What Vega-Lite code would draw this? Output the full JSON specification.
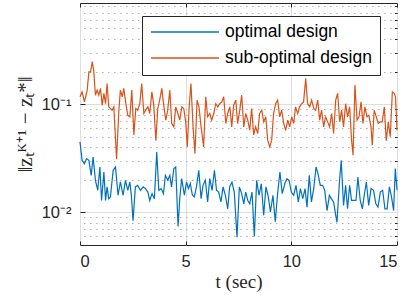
{
 "$schema": "https://vega.github.io/schema/vega-lite/v6.json",
 "width": 317, "height": 242,
 "autosize": {"type": "none"},
 "padding": {"left": 80, "top": 3, "right": 10, "bottom": 61},
 "config": {"view": {"stroke": "#262626", "strokeWidth": 1}, "font": "Liberation Sans"},
 "datasets": {
  "opt": [{"t":0,"v":0.0448},{"t":0.1,"v":0.0303},{"t":0.21,"v":0.0282},{"t":0.31,"v":0.0314},{"t":0.42,"v":0.0303},{"t":0.53,"v":0.022},{"t":0.62,"v":0.0325},{"t":0.73,"v":0.0198},{"t":0.84,"v":0.016},{"t":0.94,"v":0.0263},{"t":1.02,"v":0.0129},{"t":1.13,"v":0.0236},{"t":1.21,"v":0.0129},{"t":1.28,"v":0.0172},{"t":1.36,"v":0.0134},{"t":1.44,"v":0.0139},{"t":1.57,"v":0.0245},{"t":1.68,"v":0.0263},{"t":1.8,"v":0.0144},{"t":1.91,"v":0.0191},{"t":2.04,"v":0.0144},{"t":2.15,"v":0.0198},{"t":2.26,"v":0.016},{"t":2.36,"v":0.0191},{"t":2.43,"v":0.0144},{"t":2.51,"v":0.0084},{"t":2.62,"v":0.0172},{"t":2.73,"v":0.0178},{"t":2.86,"v":0.016},{"t":2.99,"v":0.0172},{"t":3.1,"v":0.0166},{"t":3.21,"v":0.0154},{"t":3.3,"v":0.0129},{"t":3.41,"v":0.0149},{"t":3.52,"v":0.0134},{"t":3.63,"v":0.0362},{"t":3.73,"v":0.016},{"t":3.84,"v":0.0166},{"t":3.95,"v":0.0149},{"t":4.04,"v":0.022},{"t":4.15,"v":0.0198},{"t":4.25,"v":0.022},{"t":4.33,"v":0.0172},{"t":4.44,"v":0.0254},{"t":4.53,"v":0.0263},{"t":4.64,"v":0.0074},{"t":4.72,"v":0.0134},{"t":4.81,"v":0.0205},{"t":4.94,"v":0.0144},{"t":5.04,"v":0.0191},{"t":5.13,"v":0.0166},{"t":5.22,"v":0.0184},{"t":5.32,"v":0.0144},{"t":5.41,"v":0.0139},{"t":5.51,"v":0.0172},{"t":5.62,"v":0.0245},{"t":5.73,"v":0.0134},{"t":5.82,"v":0.0178},{"t":5.93,"v":0.0198},{"t":6.04,"v":0.0125},{"t":6.14,"v":0.0205},{"t":6.25,"v":0.016},{"t":6.36,"v":0.0245},{"t":6.46,"v":0.016},{"t":6.56,"v":0.0154},{"t":6.67,"v":0.0125},{"t":6.77,"v":0.0172},{"t":6.88,"v":0.0144},{"t":6.99,"v":0.0108},{"t":7.08,"v":0.0172},{"t":7.19,"v":0.0191},{"t":7.3,"v":0.0154},{"t":7.43,"v":0.0059},{"t":7.54,"v":0.0172},{"t":7.65,"v":0.0149},{"t":7.75,"v":0.012},{"t":7.84,"v":0.0154},{"t":7.94,"v":0.0129},{"t":8.03,"v":0.012},{"t":8.14,"v":0.0154},{"t":8.25,"v":0.006},{"t":8.36,"v":0.0198},{"t":8.47,"v":0.0144},{"t":8.58,"v":0.0184},{"t":8.69,"v":0.0094},{"t":8.8,"v":0.0172},{"t":8.91,"v":0.0139},{"t":9.01,"v":0.0101},{"t":9.13,"v":0.0144},{"t":9.24,"v":0.0082},{"t":9.35,"v":0.0149},{"t":9.46,"v":0.0236},{"t":9.57,"v":0.0149},{"t":9.69,"v":0.0184},{"t":9.79,"v":0.0205},{"t":9.89,"v":0.0198},{"t":10,"v":0.0154},{"t":10.11,"v":0.0144},{"t":10.22,"v":0.0178},{"t":10.33,"v":0.0125},{"t":10.43,"v":0.0166},{"t":10.54,"v":0.0134},{"t":10.65,"v":0.0166},{"t":10.74,"v":0.0112},{"t":10.85,"v":0.022},{"t":10.95,"v":0.0125},{"t":11.06,"v":0.0166},{"t":11.17,"v":0.0263},{"t":11.26,"v":0.0228},{"t":11.37,"v":0.0178},{"t":11.48,"v":0.0178},{"t":11.58,"v":0.016},{"t":11.69,"v":0.0104},{"t":11.8,"v":0.0144},{"t":11.89,"v":0.0134},{"t":12,"v":0.0125},{"t":12.1,"v":0.0094},{"t":12.16,"v":0.0081},{"t":12.27,"v":0.0184},{"t":12.36,"v":0.0303},{"t":12.47,"v":0.0116},{"t":12.57,"v":0.0178},{"t":12.66,"v":0.0108},{"t":12.76,"v":0.0178},{"t":12.85,"v":0.0129},{"t":12.95,"v":0.0129},{"t":13.06,"v":0.0129},{"t":13.15,"v":0.0212},{"t":13.26,"v":0.0129},{"t":13.36,"v":0.0108},{"t":13.45,"v":0.0144},{"t":13.55,"v":0.0191},{"t":13.66,"v":0.0116},{"t":13.77,"v":0.0166},{"t":13.89,"v":0.016},{"t":14,"v":0.012},{"t":14.1,"v":0.0112},{"t":14.21,"v":0.0154},{"t":14.32,"v":0.016},{"t":14.43,"v":0.0108},{"t":14.53,"v":0.0108},{"t":14.64,"v":0.0172},{"t":14.74,"v":0.0139},{"t":14.84,"v":0.0104},{"t":14.92,"v":0.0254},{"t":15,"v":0.016}],
  "sub": [{"t":0,"v":0.117},{"t":0.1,"v":0.13},{"t":0.21,"v":0.105},{"t":0.34,"v":0.135},{"t":0.42,"v":0.199},{"t":0.5,"v":0.199},{"t":0.58,"v":0.247},{"t":0.65,"v":0.203},{"t":0.73,"v":0.121},{"t":0.81,"v":0.135},{"t":0.89,"v":0.121},{"t":0.97,"v":0.14},{"t":1.05,"v":0.098},{"t":1.13,"v":0.126},{"t":1.21,"v":0.101},{"t":1.28,"v":0.155},{"t":1.36,"v":0.0945},{"t":1.44,"v":0.0912},{"t":1.52,"v":0.088},{"t":1.6,"v":0.0945},{"t":1.73,"v":0.031},{"t":1.84,"v":0.088},{"t":1.91,"v":0.135},{"t":2,"v":0.117},{"t":2.07,"v":0.14},{"t":2.17,"v":0.101},{"t":2.26,"v":0.079},{"t":2.36,"v":0.0764},{"t":2.45,"v":0.135},{"t":2.55,"v":0.052},{"t":2.64,"v":0.0912},{"t":2.73,"v":0.088},{"t":2.83,"v":0.101},{"t":2.92,"v":0.155},{"t":3.02,"v":0.082},{"t":3.11,"v":0.088},{"t":3.21,"v":0.0945},{"t":3.3,"v":0.082},{"t":3.4,"v":0.13},{"t":3.49,"v":0.098},{"t":3.59,"v":0.046},{"t":3.68,"v":0.0912},{"t":3.77,"v":0.109},{"t":3.87,"v":0.14},{"t":3.96,"v":0.098},{"t":4.06,"v":0.0711},{"t":4.15,"v":0.088},{"t":4.25,"v":0.135},{"t":4.34,"v":0.0662},{"t":4.44,"v":0.0617},{"t":4.53,"v":0.0945},{"t":4.63,"v":0.082},{"t":4.72,"v":0.0711},{"t":4.82,"v":0.0945},{"t":4.91,"v":0.0912},{"t":5,"v":0.0686},{"t":5.08,"v":0.0403},{"t":5.16,"v":0.0912},{"t":5.25,"v":0.155},{"t":5.35,"v":0.0617},{"t":5.44,"v":0.0349},{"t":5.54,"v":0.109},{"t":5.63,"v":0.0945},{"t":5.73,"v":0.0617},{"t":5.85,"v":0.0403},{"t":5.95,"v":0.117},{"t":6.04,"v":0.0764},{"t":6.14,"v":0.082},{"t":6.23,"v":0.0711},{"t":6.33,"v":0.082},{"t":6.42,"v":0.101},{"t":6.52,"v":0.0945},{"t":6.61,"v":0.101},{"t":6.71,"v":0.105},{"t":6.8,"v":0.117},{"t":6.9,"v":0.0662},{"t":6.99,"v":0.082},{"t":7.09,"v":0.0945},{"t":7.18,"v":0.0617},{"t":7.27,"v":0.098},{"t":7.37,"v":0.109},{"t":7.46,"v":0.0662},{"t":7.56,"v":0.088},{"t":7.65,"v":0.121},{"t":7.75,"v":0.0617},{"t":7.84,"v":0.082},{"t":7.94,"v":0.0711},{"t":8.03,"v":0.0574},{"t":8.12,"v":0.0912},{"t":8.22,"v":0.052},{"t":8.31,"v":0.0617},{"t":8.41,"v":0.0535},{"t":8.5,"v":0.082},{"t":8.6,"v":0.088},{"t":8.69,"v":0.0686},{"t":8.79,"v":0.0764},{"t":8.88,"v":0.0465},{"t":8.98,"v":0.0403},{"t":9.07,"v":0.0465},{"t":9.16,"v":0.082},{"t":9.26,"v":0.101},{"t":9.35,"v":0.109},{"t":9.45,"v":0.0764},{"t":9.54,"v":0.088},{"t":9.64,"v":0.0662},{"t":9.73,"v":0.0574},{"t":9.83,"v":0.0711},{"t":9.92,"v":0.0617},{"t":10.02,"v":0.0764},{"t":10.11,"v":0.0662},{"t":10.2,"v":0.0945},{"t":10.3,"v":0.082},{"t":10.39,"v":0.0945},{"t":10.49,"v":0.101},{"t":10.58,"v":0.105},{"t":10.68,"v":0.173},{"t":10.77,"v":0.101},{"t":10.87,"v":0.0945},{"t":10.96,"v":0.109},{"t":11.06,"v":0.0912},{"t":11.15,"v":0.088},{"t":11.25,"v":0.109},{"t":11.34,"v":0.0711},{"t":11.43,"v":0.088},{"t":11.53,"v":0.0617},{"t":11.62,"v":0.0764},{"t":11.72,"v":0.0686},{"t":11.81,"v":0.0617},{"t":11.91,"v":0.082},{"t":12,"v":0.0535},{"t":12.1,"v":0.109},{"t":12.19,"v":0.126},{"t":12.29,"v":0.0686},{"t":12.38,"v":0.088},{"t":12.47,"v":0.0617},{"t":12.57,"v":0.101},{"t":12.66,"v":0.0764},{"t":12.76,"v":0.0945},{"t":12.85,"v":0.0465},{"t":12.92,"v":0.0337},{"t":13.01,"v":0.15},{"t":13.11,"v":0.0711},{"t":13.2,"v":0.0764},{"t":13.3,"v":0.105},{"t":13.39,"v":0.0662},{"t":13.48,"v":0.0945},{"t":13.58,"v":0.0764},{"t":13.67,"v":0.079},{"t":13.77,"v":0.0617},{"t":13.83,"v":0.0417},{"t":13.92,"v":0.088},{"t":14.02,"v":0.0764},{"t":14.11,"v":0.0662},{"t":14.21,"v":0.0686},{"t":14.3,"v":0.0686},{"t":14.4,"v":0.0945},{"t":14.49,"v":0.046},{"t":14.59,"v":0.0686},{"t":14.68,"v":0.05},{"t":14.78,"v":0.13},{"t":14.87,"v":0.126},{"t":14.93,"v":0.117},{"t":15,"v":0.0574}]
 },
 "layer": [
  {
   "data": {"name": "opt"},
   "mark": {"type": "point", "opacity": 0},
   "encoding": {
    "x": {"field": "t", "type": "quantitative", "scale": {"domain": [0, 15], "nice": false, "zero": false},
     "axis": {"orient": "top", "values": [0, 5, 10, 15], "labels": false, "grid": false, "domain": false, "ticks": true, "tickSize": -4, "tickColor": "#262626", "title": null}},
    "y": {"field": "v", "type": "quantitative", "scale": {"type": "log", "domain": [0.005, 0.86], "nice": false},
     "axis": {"orient": "right", "values": [0.006,0.007,0.008,0.009,0.02,0.03,0.04,0.05,0.06,0.07,0.08,0.09,0.2,0.3,0.4,0.5,0.6,0.7,0.8], "labels": false, "domain": false, "grid": true, "gridDash": [1.5, 4.5], "gridColor": "#b4b4b4", "ticks": true, "tickSize": -2.5, "tickColor": "#262626", "title": null}}
   }
  },
  {
   "data": {"name": "opt"},
   "mark": {"type": "line", "strokeWidth": 1.2},
   "encoding": {
    "x": {"field": "t", "type": "quantitative",
     "axis": {"orient": "bottom", "values": [0, 5, 10, 15], "grid": true, "gridColor": "#dedede", "domain": false, "ticks": true, "tickSize": -4, "tickColor": "#262626", "labelFontSize": 16.5, "labelColor": "#262626", "labelPadding": 12, "labelFont": "Liberation Sans", "title": "t (sec)", "titleFont": "Liberation Serif", "titleFontSize": 19, "titleFontWeight": "normal", "titleColor": "#262626", "titlePadding": 3}},
    "y": {"field": "v", "type": "quantitative",
     "axis": {"orient": "left", "values": [0.01, 0.1], "labelExpr": "datum.value < 0.05 ? '10⁻²' : '10⁻¹'", "grid": true, "gridColor": "#dedede", "domain": false, "ticks": true, "tickSize": -5, "tickColor": "#262626", "labelFontSize": 16.5, "labelColor": "#262626", "labelPadding": 14, "labelFont": "Liberation Sans", "title": "‖zₜᴷ⁺¹ − zₜ*‖", "titleFont": "Liberation Serif", "titleFontSize": 21, "titleFontWeight": "normal", "titleColor": "#262626", "titlePadding": 6}},
    "color": {"datum": "optimal design", "type": "nominal",
     "scale": {"domain": ["optimal design", "sub-optimal design"], "range": ["#0072BD", "#D95319"]},
     "legend": {"orient": "none", "legendX": 62, "legendY": 13, "title": null, "symbolType": "stroke", "symbolSize": 4624, "symbolStrokeWidth": 1.3, "clipHeight": 16, "labelFontSize": 17.5, "labelFont": "Liberation Sans", "labelColor": "#000000", "labelOffset": 5, "rowPadding": 8, "padding": 8, "strokeColor": "#262626", "fillColor": "white", "cornerRadius": 0}}
   }
  },
  {
   "data": {"name": "sub"},
   "mark": {"type": "line", "strokeWidth": 1.2},
   "encoding": {
    "x": {"field": "t", "type": "quantitative", "axis": null},
    "y": {"field": "v", "type": "quantitative", "axis": null},
    "color": {"datum": "sub-optimal design", "type": "nominal"}
   }
  }
 ],
 "resolve": {"axis": {"x": "independent", "y": "independent"}}
}
